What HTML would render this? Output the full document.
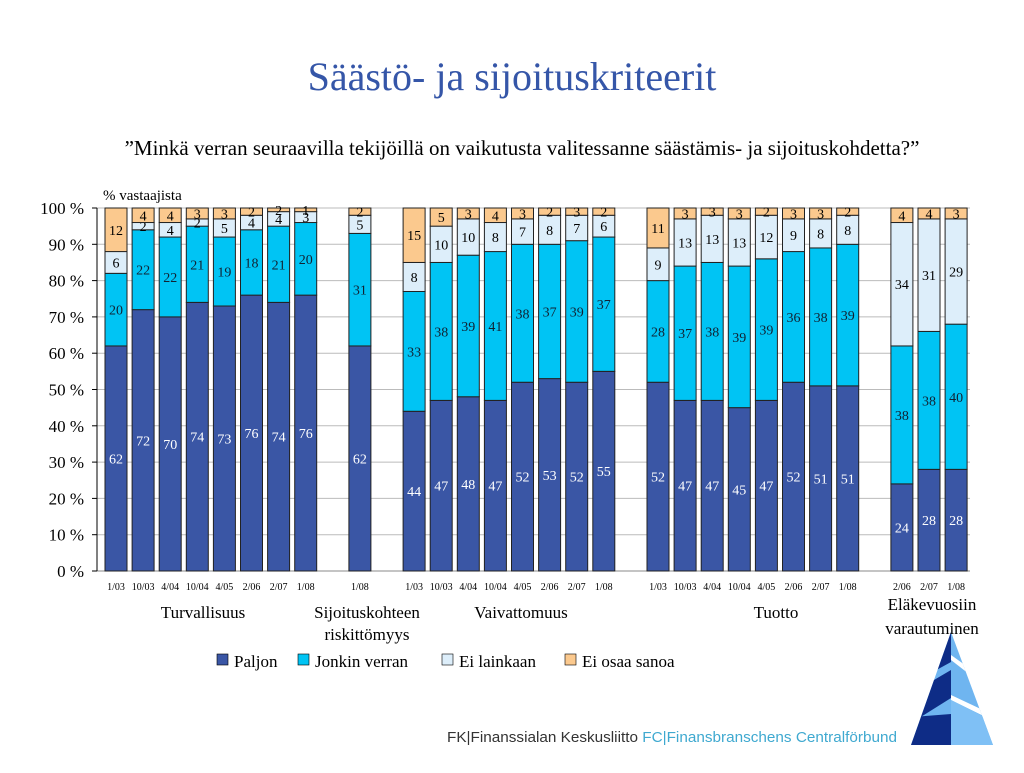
<!DOCTYPE html>
<html><head><meta charset="utf-8"><style>
body{margin:0;width:1024px;height:768px;background:#fff;overflow:hidden;font-family:"Liberation Serif",serif;}
</style></head><body>
<svg width="1024" height="768" xmlns="http://www.w3.org/2000/svg">
<text x="512" y="90" text-anchor="middle" font-size="40" fill="#3556A8">Säästö- ja sijoituskriteerit</text>
<text x="522" y="155" text-anchor="middle" font-size="21" fill="#000">”Minkä verran seuraavilla tekijöillä on vaikutusta valitessanne säästämis- ja sijoituskohdetta?”</text>
<text x="103" y="200" font-size="15">% vastaajista</text>
<g id="chart"></g>
<g>
<clipPath id="tri"><polygon points="951,632 911,745 993,745"/></clipPath>
<g clip-path="url(#tri)">
<rect x="900" y="625" width="100" height="125" fill="#6FB5F0"/>
<polygon points="900,625 951,625 951,662 900,690" fill="#0E2C86"/>
<polygon points="900,700 951,670 951,698 900,730" fill="#0E2C86"/>
<polygon points="900,718 951,714 951,750 900,750" fill="#0E2C86"/>
<polygon points="951,655 1000,690 1000,698 951,660" fill="#fff"/>
<polygon points="951,695 1000,718 1000,724 951,700" fill="#fff"/>
<polygon points="951,700 951,750 1000,750 1000,725" fill="#7FC0F5"/>
</g>
</g>
<g font-size="17" text-anchor="middle">
<text x="203" y="618">Turvallisuus</text>
<text x="367" y="618">Sijoituskohteen</text>
<text x="367" y="640">riskittömyys</text>
<text x="521" y="618">Vaivattomuus</text>
<text x="776" y="618">Tuotto</text>
<text x="932" y="610">Eläkevuosiin</text>
<text x="932" y="634">varautuminen</text>
</g>
<g font-size="17">
<rect x="217" y="654" width="11" height="11" fill="#3A56A5" stroke="#000" stroke-width="0.6"/><text x="234" y="667">Paljon</text>
<rect x="298" y="654" width="11" height="11" fill="#00C4F4" stroke="#000" stroke-width="0.6"/><text x="315" y="667">Jonkin verran</text>
<rect x="442" y="654" width="11" height="11" fill="#DDEEFA" stroke="#000" stroke-width="0.6"/><text x="459" y="667">Ei lainkaan</text>
<rect x="565" y="654" width="11" height="11" fill="#FBC98E" stroke="#000" stroke-width="0.6"/><text x="582" y="667">Ei osaa sanoa</text>
</g>
<text x="447" y="742" font-family="Liberation Sans,sans-serif" font-size="15" textLength="450" lengthAdjust="spacingAndGlyphs" fill="#333">FK|Finanssialan Keskusliitto <tspan fill="#3FA9D0">FC|Finansbranschens Centralförbund</tspan></text>
</svg>
<script>
const dates=["1/03","10/03","4/04","10/04","4/05","2/06","2/07","1/08","1/08","1/03","10/03","4/04","10/04","4/05","2/06","2/07","1/08","1/03","10/03","4/04","10/04","4/05","2/06","2/07","1/08","2/06","2/07","1/08"];
const slots=[0,1,2,3,4,5,6,7,9,11,12,13,14,15,16,17,18,20,21,22,23,24,25,26,27,29,30,31];
const paljon=[62,72,70,74,73,76,74,76,62,44,47,48,47,52,53,52,55,52,47,47,45,47,52,51,51,24,28,28];
const jonkin=[20,22,22,21,19,18,21,20,31,33,38,39,41,38,37,39,37,28,37,38,39,39,36,38,39,38,38,40];
const eiLainkaan=[6,2,4,2,5,4,4,3,5,8,10,10,8,7,8,7,6,9,13,13,13,12,9,8,8,34,31,29];
const eiOsaa=[12,4,4,3,3,2,2,1,2,15,5,3,4,3,2,3,2,11,3,3,3,2,3,3,2,4,4,3];
const yTicks=[0,10,20,30,40,50,60,70,80,90,100];
const NS="http://www.w3.org/2000/svg";
const g=document.getElementById('chart');
const y=v=>571-v*3.63;
const xc=s=>116+s*27.1;
function mk(t,a){const e=document.createElementNS(NS,t);for(const k in a)e.setAttribute(k,a[k]);g.appendChild(e);return e;}
yTicks.forEach(t=>{
 const l=mk('line',{x1:97,x2:970,y1:y(t),y2:y(t),stroke:t?'#BBB':'#888','stroke-width':1});
 
 
 const tk=mk('line',{x1:92,x2:97,y1:y(t),y2:y(t),stroke:'#000'});
 
 
 const tx=mk('text',{x:84,y:y(t)+6,'text-anchor':'end','font-size':17});
 tx.textContent=t+' %';
 
 
});
const ax=mk('line',{x1:97,x2:97,y1:y(0),y2:y(100),stroke:'#000'});


const series=[[paljon,'#3A56A5','#fff','paljon'],[jonkin,'#00C4F4','#123','jonkin'],[eiLainkaan,'#DDEEFA','#000','ei-lainkaan'],[eiOsaa,'#FBC98E','#000','ei-osaa']];
dates.forEach((d,i)=>{
 const cx=xc(slots[i]);let base=0;
 series.forEach(([arr,col,tc,nm])=>{
  const v=arr[i];let top=Math.min(base+v,100);
  const r=mk('rect',{x:cx-11,y:y(top),width:22,height:Math.max(0,y(base)-y(top)),fill:col,stroke:'#222','stroke-width':1});
  
  
  const t=mk('text',{x:cx,y:(y(base)+y(top))/2+5,'text-anchor':'middle','font-size':14,fill:tc});
  t.textContent=v;
  
  
  base=top;
 });
 const dl=mk('text',{x:cx,y:590,'text-anchor':'middle','font-size':10});
 dl.textContent=d;
 
 
});
</script>
</body></html>
